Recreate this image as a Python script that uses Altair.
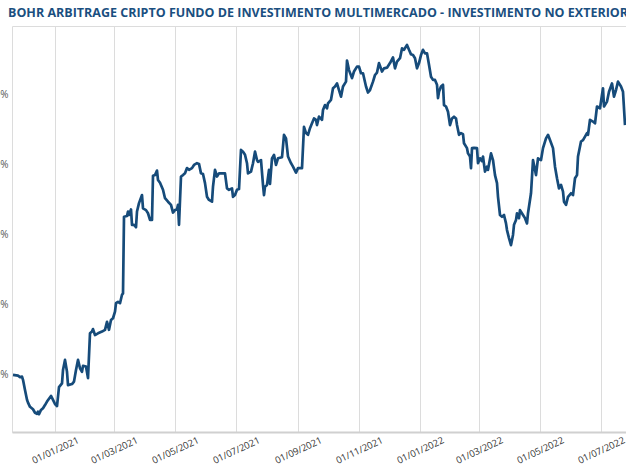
import altair as alt
import pandas as pd

title_text = "BOHR ARBITRAGE CRIPTO FUNDO DE INVESTIMENTO MULTIMERCADO - INVESTIMENTO NO EXTERIOR"

start_date = "2020-11-19"
end_date = "2022-07-26"

# days since start_date
day_offsets = [
    1, 6, 8, 10, 11, 13, 15, 16, 18, 21, 23, 25, 26, 27, 29, 31, 33, 35, 39, 41,
    43, 45, 47, 50, 51, 53, 55, 56, 60, 62, 64, 66, 68, 70, 71, 74, 76, 78, 80, 81,
    83, 86, 90, 93, 95, 97, 99, 101, 103, 104, 106, 108, 110, 111, 112, 115, 116, 117, 119, 120,
    122, 124, 125, 127, 130, 131, 134, 136, 138, 140, 141, 143, 145, 146, 148, 151, 153, 156, 159, 161,
    163, 165, 166, 167, 169, 171, 173, 175, 177, 180, 182, 185, 187, 189, 191, 193, 195, 197, 200, 201,
    203, 205, 207, 210, 213, 215, 217, 220, 221, 223, 225, 227, 229, 231, 233, 235, 236, 239, 241, 243,
    245, 246, 249, 251, 252, 253, 255, 257, 258, 260, 262, 264, 266, 270, 272, 274, 276, 279, 281, 284,
    286, 290, 292, 294, 296, 298, 300, 302, 304, 305, 307, 310, 311, 313, 315, 316, 319, 321, 323, 325,
    327, 329, 331, 334, 335, 337, 340, 342, 345, 347, 349, 351, 354, 356, 358, 361, 363, 365, 367, 370,
    372, 375, 378, 381, 383, 385, 388, 390, 392, 395, 397, 399, 401, 403, 405, 407, 409, 411, 413, 415,
    417, 419, 421, 423, 425, 426, 427, 429, 431, 432, 434, 436, 438, 440, 442, 444, 445, 447, 449, 451,
    452, 455, 456, 458, 459, 460, 462, 465, 466, 468, 470, 471, 473, 475, 476, 479, 481, 483, 485, 486,
    488, 490, 492, 494, 495, 497, 499, 501, 502, 504, 505, 507, 508, 511, 513, 515, 516, 519, 521, 524,
    526, 529, 531, 534, 536, 538, 541, 543, 545, 547, 549, 551, 552, 554, 556, 559, 561, 563, 565, 566,
    569, 571, 573, 575, 576, 578, 581, 583, 585, 588, 591, 592, 595, 597, 600, 602, 604, 606, 609, 611,
    613,
]

# cumulative return, %
returns_pct = [
    0.0, -0.2, -0.6, -0.5, -1.4, -4.3, -7.1, -7.9, -9.1, -9.8, -10.8, -11.1, -10.5, -11.2, -10.0, -9.5, -8.6, -7.6, -6.0, -7.1,
    -8.3, -8.9, -3.5, -2.4, 1.4, 4.3, 0.9, -2.9, -2.6, -1.9, 1.4, 4.3, 1.9, 0.9, 2.6, 2.4, -0.9, 11.9, 12.4, 13.1,
    11.4, 11.9, 12.4, 12.9, 15.2, 12.9, 15.7, 16.2, 18.1, 20.5, 20.9, 20.5, 22.9, 23.3, 45.2, 45.4, 46.7, 45.7, 47.3, 42.9,
    42.9, 42.2, 46.7, 49.1, 51.4, 47.6, 47.1, 46.2, 44.3, 44.3, 56.9, 57.1, 58.4, 55.7, 54.9, 52.9, 50.5, 49.5, 48.6, 46.4,
    47.1, 47.3, 48.6, 42.9, 56.7, 57.1, 57.6, 59.1, 58.6, 59.1, 60.0, 60.5, 60.3, 57.6, 57.4, 54.8, 50.9, 50.0, 49.5, 53.8,
    58.6, 56.7, 57.6, 57.6, 57.6, 53.3, 52.9, 53.3, 50.9, 51.4, 52.9, 53.1, 64.3, 63.8, 62.9, 60.5, 57.6, 58.1, 60.5, 63.8,
    61.4, 60.9, 61.4, 54.3, 51.4, 53.8, 54.3, 58.6, 54.6, 61.9, 62.9, 60.0, 61.9, 62.2, 68.6, 67.6, 62.4, 60.5, 59.5, 57.8,
    59.1, 59.1, 70.9, 69.1, 68.6, 70.5, 71.9, 73.3, 72.9, 71.4, 73.8, 72.9, 75.7, 77.1, 76.2, 77.6, 78.6, 81.9, 82.4, 83.3,
    81.4, 79.5, 82.4, 83.8, 89.8, 87.1, 84.8, 86.7, 88.1, 88.1, 86.2, 86.2, 82.4, 80.7, 81.4, 83.8, 85.7, 86.4, 89.1, 86.7,
    87.6, 87.8, 89.1, 90.7, 87.6, 89.5, 90.5, 93.3, 92.9, 94.3, 92.9, 91.6, 91.4, 90.5, 87.6, 89.1, 91.4, 92.9, 91.9, 91.9,
    88.6, 85.2, 84.3, 84.3, 82.9, 79.1, 80.9, 82.4, 82.9, 77.1, 76.7, 75.2, 71.4, 73.3, 73.8, 73.3, 71.4, 68.6, 69.1, 68.8,
    66.2, 64.8, 63.3, 62.4, 59.1, 64.8, 64.9, 64.8, 60.5, 61.9, 61.1, 62.4, 58.1, 59.5, 58.6, 63.3, 61.4, 57.1, 54.8, 50.9,
    45.7, 45.2, 45.7, 43.3, 41.4, 39.1, 37.1, 40.0, 42.9, 44.3, 46.2, 44.8, 47.1, 45.7, 44.8, 43.3, 46.2, 51.9, 61.4, 57.1,
    61.9, 61.4, 64.8, 67.6, 68.6, 67.1, 64.8, 59.5, 56.2, 53.3, 54.3, 52.4, 49.5, 48.6, 50.9, 51.9, 51.4, 56.2, 57.1, 62.4,
    66.7, 67.1, 68.1, 69.1, 68.6, 72.9, 72.4, 71.9, 76.7, 76.2, 81.9, 76.7, 78.1, 80.9, 83.3, 79.5, 81.4, 83.8, 82.4, 80.9,
    71.4,
]

y_ticks = [0, 20, 40, 60, 80]
x_tick_dates = [
    (2021, 1), (2021, 3), (2021, 5), (2021, 7), (2021, 9), (2021, 11),
    (2022, 1), (2022, 3), (2022, 5), (2022, 7),
]

dates = (pd.Timestamp(start_date) + pd.to_timedelta(day_offsets, unit="D")).strftime("%Y-%m-%d")
df = pd.DataFrame({"date": dates, "ret": returns_pct})

line_color = "#164b7a"

chart = (
    alt.Chart(df)
    .mark_line(color=line_color, strokeWidth=2.7, strokeJoin="round")
    .encode(
        x=alt.X(
            "date:T",
            scale=alt.Scale(type="utc", domain=[start_date, end_date]),
            axis=alt.Axis(
                title=None,
                values=[alt.DateTime(year=y, month=m, date=1, utc=True) for y, m in x_tick_dates],
                format="%d/%m/%Y",
                labelAngle=-25,
                labelAlign="center",
                labelBaseline="middle",
                labelPadding=18,
                ticks=False,
                grid=True,
                gridColor="#dcdcdc",
                gridWidth=1,
                domainColor="#d0d0d0",
                domainWidth=2,
                labelFont="Open Sans",
                labelFontSize=9.5,
                labelColor="#333333",
                labelOverlap=False,
            ),
        ),
        y=alt.Y(
            "ret:Q",
            scale=alt.Scale(domain=[-16.3, 99.7], nice=False, zero=False),
            axis=alt.Axis(
                title=None,
                values=y_ticks,
                labelExpr="datum.value + '%'",
                grid=False,
                ticks=False,
                domain=False,
                labelPadding=4,
                labelFont="Open Sans",
                labelFontSize=10,
                labelColor="#555555",
            ),
        ),
    )
    .properties(
        width=614,
        height=406,
        autosize=alt.AutoSizeParams(type="none"),
        padding={"left": 12, "top": 26, "right": 0, "bottom": 38},
        title=alt.TitleParams(
            title_text,
            anchor="start",
            frame="group",
            dx=-4,
            offset=7,
            font="Open Sans",
            fontSize=12.5,
            fontWeight="bold",
            color="#1a4f80",
        ),
    )
    .configure_view(stroke="#dcdcdc", strokeWidth=1)
)

chart.save("out.html", embed_options={"renderer": "svg", "actions": False})
